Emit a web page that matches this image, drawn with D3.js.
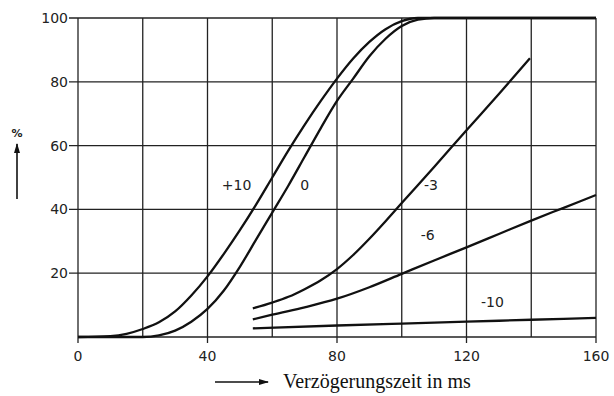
<!DOCTYPE html>
<meta charset="utf-8">
<script src="https://d3js.org/d3.v7.min.js"></script>
<style>
    body { margin: 0; background: #fff; }
    .grid line { stroke: #222; stroke-width: 1.3; }
    .curve { fill: none; stroke: #111; stroke-width: 2.3; }
    .tick_label { font-family: "DejaVu Sans", sans-serif; font-size: 14px; fill: #222; }
    .curve_label { font-family: "DejaVu Sans", sans-serif; font-size: 14px; fill: #222; }
    .x_title { font-family: "Liberation Serif", "Times New Roman", "DejaVu Serif", serif; font-size: 20px; fill: #111; }
</style>
<div id="my_dataviz"></div>
<script>
// data: [delay in ms, percent]
const plus10 = [[0,0],[10,0.3],[15,1],[20,2.5],[25,4.6],[30,8],[35,13],[40,19],[45,26],[50,33.5],[55,41.5],[60,50],[65,58.5],[70,66.5],[75,74],[80,81],[85,87.3],[90,92.5],[95,96.5],[100,99],[105,100],[160,100]];
const zero = [[0,0],[20,0],[25,0.5],[30,2],[35,4.8],[40,8.8],[45,14.5],[50,22],[55,30.5],[60,39],[65,47.5],[70,56.5],[75,65.5],[80,74],[85,81],[90,88],[95,93.5],[100,97.5],[105,99.5],[110,100],[160,100]];
const minus3 = [[54,9],[60,10.8],[65,12.6],[70,15],[75,17.8],[80,21.3],[85,25.7],[90,30.8],[95,36.3],[100,42],[110,53.3],[120,64.8],[130,76.2],[139.6,87.4]];
const minus6 = [[54,5.5],[60,7],[70,9.3],[80,12],[90,15.6],[100,19.8],[110,24],[120,28.1],[130,32.3],[140,36.5],[150,40.5],[160,44.5]];
const minus10 = [[54,2.7],[80,3.6],[100,4.2],[120,4.8],[140,5.4],[160,6]];

const curveNames = ["+10", "0", "-3", "-6", "-10"];
const labelPos = [[49,46], [70,46], [109,46], [108,30.5], [128,9.5]];

const xTicks = [0, 40, 80, 120, 160];
const yTicks = [20, 40, 60, 80, 100];
const xGrid = [0, 20, 40, 60, 80, 100, 120, 140, 160];
const yGrid = [0, 20, 40, 60, 80, 100];

const margin = {top: 18, right: 18, bottom: 59, left: 78},
    width = 614 - margin.left - margin.right,
    height = 396 - margin.top - margin.bottom;

const svgRoot = d3.select("#my_dataviz").append("svg")
    .attr("width", 614)
    .attr("height", 396);

const svg = svgRoot.append("g")
    .attr("transform", "translate(" + margin.left + "," + margin.top + ")");

let x = d3.scaleLinear().domain([0, 160]).range([0, width]);
let y = d3.scaleLinear().domain([0, 100]).range([height, 0]);

// grid
const grid = svg.append("g").attr("class", "grid");
grid.selectAll(".v").data(xGrid).enter().append("line")
    .attr("x1", d => x(d)).attr("x2", d => x(d))
    .attr("y1", 0).attr("y2", d => xTicks.includes(d) ? height + 6 : height);
grid.selectAll(".h").data(yGrid).enter().append("line")
    .attr("y1", d => y(d)).attr("y2", d => y(d))
    .attr("x1", d => yTicks.includes(d) ? -9 : 0).attr("x2", width);

// tick labels
svg.selectAll(".xl").data(xTicks).enter().append("text")
    .attr("class", "tick_label")
    .attr("x", d => x(d)).attr("y", height + 24)
    .attr("text-anchor", "middle")
    .text(d => d);
svg.selectAll(".yl").data(yTicks).enter().append("text")
    .attr("class", "tick_label")
    .attr("x", -10).attr("y", d => y(d) + 5)
    .attr("text-anchor", "end")
    .text(d => d);

// curves
let valueline = d3.line().x(d => x(d[0])).y(d => y(d[1])).curve(d3.curveMonotoneX);
[plus10, zero, minus3, minus6, minus10].forEach(s => {
    svg.append("path").attr("class", "curve").attr("d", valueline(s));
});

svg.selectAll(".cl").data(curveNames).enter().append("text")
    .attr("class", "curve_label")
    .attr("x", (d, i) => x(labelPos[i][0])).attr("y", (d, i) => y(labelPos[i][1]))
    .attr("text-anchor", "middle")
    .text(d => d);

// axis titles with arrows
const defs = svgRoot.append("defs");
defs.append("marker").attr("id", "arr").attr("viewBox", "0 0 10 6")
    .attr("refX", 9).attr("refY", 3).attr("markerWidth", 10).attr("markerHeight", 6)
    .attr("markerUnits", "userSpaceOnUse").attr("orient", "auto")
    .append("path").attr("d", "M0,0 L10,3 L0,6 Z").attr("fill", "#111");

svgRoot.append("text").attr("class", "tick_label")
    .attr("x", 17).attr("y", 137).attr("text-anchor", "middle")
    .style("font-size", "11px").style("font-weight", "bold").text("%");
svgRoot.append("line").attr("x1", 17).attr("x2", 17).attr("y1", 199).attr("y2", 144)
    .attr("stroke", "#111").attr("stroke-width", 1.6).attr("marker-end", "url(#arr)");

svgRoot.append("line").attr("x1", 215).attr("x2", 268).attr("y1", 382).attr("y2", 382)
    .attr("stroke", "#111").attr("stroke-width", 1.6).attr("marker-end", "url(#arr)");
svgRoot.append("text").attr("class", "x_title")
    .attr("x", 283).attr("y", 388).text("Verzögerungszeit in ms");
</script>
